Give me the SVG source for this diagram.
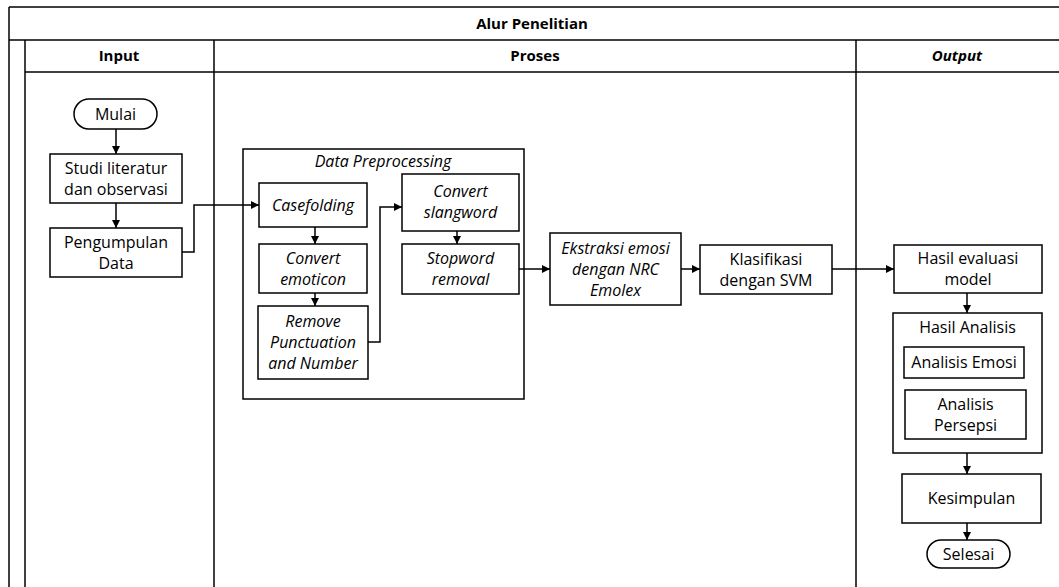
<svg xmlns="http://www.w3.org/2000/svg" width="1059" height="587" viewBox="0 0 1059 587">
<style>
.frame{fill:none;stroke:#000;stroke-width:1.5}
.box{fill:#fff;stroke:#000;stroke-width:1.5}
.t{font-family:"Open Sans",Lato,"Liberation Sans",sans-serif;font-size:16px;fill:#000;text-anchor:middle}
.i{font-style:italic}
.b{font-weight:bold;font-size:15px}
.c{fill:none;stroke:#000;stroke-width:1.5}
</style>
<defs>
<marker id="ah" viewBox="0 0 10 10" refX="10" refY="5" markerWidth="8" markerHeight="8" markerUnits="userSpaceOnUse" orient="auto">
<path d="M0,0 L10,5 L0,10 z" fill="#000"/>
</marker>
</defs>
<rect width="1059" height="587" fill="#fff"/>
<g id="swimlane">
<line class="frame" x1="9" y1="7" x2="1059" y2="7"/>
<line class="frame" x1="9" y1="40" x2="1059" y2="40"/>
<line class="frame" x1="25" y1="72" x2="1059" y2="72"/>
<line class="frame" x1="9" y1="7" x2="9" y2="587"/>
<line class="frame" x1="25" y1="40" x2="25" y2="587"/>
<line class="frame" x1="214" y1="40" x2="214" y2="587"/>
<line class="frame" x1="856" y1="40" x2="856" y2="587"/>
<text class="t b" x="532" y="29">Alur Penelitian</text>
<text class="t b" x="119" y="61">Input</text>
<text class="t b" x="535" y="61">Proses</text>
<text class="t b i" x="957" y="61">Output</text>
</g>
<g id="mulai">
<rect class="box" x="74" y="99" width="83" height="30" rx="15" ry="15"/>
<text class="t" x="115.5" y="119.5">Mulai</text>
</g>
<g id="studi">
<rect class="box" x="50" y="154" width="132" height="49"/>
<text class="t" x="116" y="174">Studi literatur</text>
<text class="t" x="116" y="195">dan observasi</text>
</g>
<g id="pengumpulan">
<rect class="box" x="50" y="228" width="132" height="49"/>
<text class="t" x="116" y="247.5">Pengumpulan</text>
<text class="t" x="116" y="268.5">Data</text>
</g>
<g id="preprocessing">
<rect class="box" x="243" y="149" width="281" height="250"/>
<text class="t i" x="383" y="167">Data Preprocessing</text>
</g>
<g id="casefolding">
<rect class="box" x="259" y="183" width="108" height="44"/>
<text class="t i" x="313" y="210.5">Casefolding</text>
</g>
<g id="emoticon">
<rect class="box" x="259" y="244" width="108" height="49"/>
<text class="t i" x="313" y="263.5">Convert</text>
<text class="t i" x="313" y="284.5">emoticon</text>
</g>
<g id="remove">
<rect class="box" x="258" y="306" width="110" height="73"/>
<text class="t i" x="313" y="327">Remove</text>
<text class="t i" x="313" y="348">Punctuation</text>
<text class="t i" x="313" y="369">and Number</text>
</g>
<g id="slangword">
<rect class="box" x="402" y="174" width="117" height="57"/>
<text class="t i" x="460.5" y="197">Convert</text>
<text class="t i" x="460.5" y="218">slangword</text>
</g>
<g id="stopword">
<rect class="box" x="402" y="244" width="117" height="50"/>
<text class="t i" x="460.5" y="264">Stopword</text>
<text class="t i" x="460.5" y="285">removal</text>
</g>
<g id="ekstraksi">
<rect class="box" x="550" y="233" width="131" height="72"/>
<text class="t i" x="615.5" y="253.5">Ekstraksi emosi</text>
<text class="t i" x="615.5" y="274.5">dengan NRC</text>
<text class="t i" x="615.5" y="295.5">Emolex</text>
</g>
<g id="klasifikasi">
<rect class="box" x="700" y="245" width="132" height="49"/>
<text class="t" x="766" y="264.5">Klasifikasi</text>
<text class="t" x="766" y="285.5">dengan SVM</text>
</g>
<g id="evaluasi">
<rect class="box" x="894" y="245" width="148" height="48"/>
<text class="t" x="968" y="264">Hasil evaluasi</text>
<text class="t" x="968" y="285">model</text>
</g>
<g id="hasil-analisis">
<rect class="box" x="893" y="313" width="149" height="140"/>
<text class="t" x="967.5" y="333">Hasil Analisis</text>
</g>
<g id="analisis-emosi">
<rect class="box" x="904" y="347" width="120" height="31"/>
<text class="t" x="964" y="368">Analisis Emosi</text>
</g>
<g id="analisis-persepsi">
<rect class="box" x="905" y="390" width="121" height="49"/>
<text class="t" x="965.5" y="409.5">Analisis</text>
<text class="t" x="965.5" y="430.5">Persepsi</text>
</g>
<g id="kesimpulan">
<rect class="box" x="902" y="474" width="139" height="49"/>
<text class="t" x="971.5" y="504">Kesimpulan</text>
</g>
<g id="selesai">
<rect class="box" x="927" y="540" width="83" height="28" rx="14" ry="14"/>
<text class="t" x="968.5" y="559.5">Selesai</text>
</g>
<g id="connectors">
<line class="c" x1="116" y1="129" x2="116" y2="154" marker-end="url(#ah)"/>
<line class="c" x1="116" y1="203" x2="116" y2="228" marker-end="url(#ah)"/>
<polyline class="c" points="182,252 194,252 194,205 259,205" marker-end="url(#ah)"/>
<line class="c" x1="315" y1="227" x2="315" y2="244" marker-end="url(#ah)"/>
<line class="c" x1="315" y1="293" x2="315" y2="306" marker-end="url(#ah)"/>
<polyline class="c" points="368,342 380,342 380,207 402,207" marker-end="url(#ah)"/>
<line class="c" x1="457" y1="231" x2="457" y2="244" marker-end="url(#ah)"/>
<line class="c" x1="519" y1="269" x2="550" y2="269" marker-end="url(#ah)"/>
<line class="c" x1="681" y1="269" x2="700" y2="269" marker-end="url(#ah)"/>
<line class="c" x1="832" y1="269" x2="894" y2="269" marker-end="url(#ah)"/>
<line class="c" x1="967" y1="293" x2="967" y2="313" marker-end="url(#ah)"/>
<line class="c" x1="967" y1="453" x2="967" y2="474" marker-end="url(#ah)"/>
<line class="c" x1="967" y1="523" x2="967" y2="540" marker-end="url(#ah)"/>
</g>
</svg>
